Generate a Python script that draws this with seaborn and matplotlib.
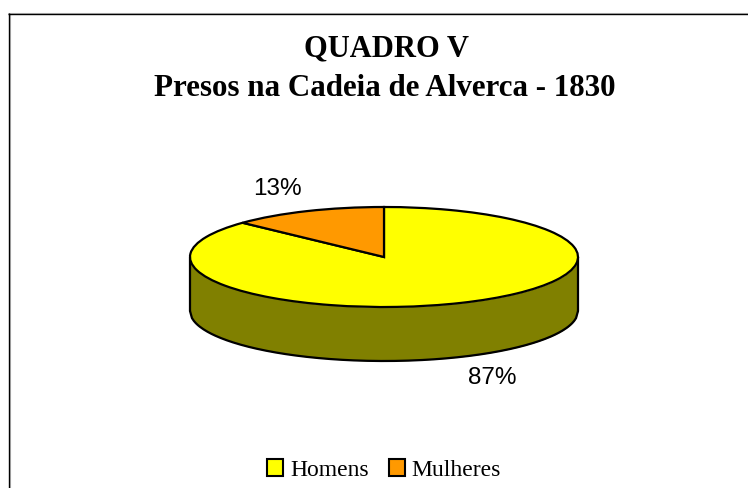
import numpy as np
import matplotlib
matplotlib.use('Agg')
import matplotlib.pyplot as plt
from matplotlib.lines import Line2D
from matplotlib.patches import Patch
import seaborn as sns

sns.set_theme(style='white')
plt.rcParams['font.family'] = ['Liberation Serif', 'DejaVu Serif']

# data
labels = ['Homens', 'Mulheres']
values = [87, 13]
colors = ['#FFFF00', '#FF9900']
wall_color = '#808000'
pct_text = ['87%', '13%']

W, H = 748, 488
fig = plt.figure(figsize=(W / 100, H / 100), dpi=100, facecolor='white')
ax = fig.add_axes([0, 0, 1, 1])


def px_line(x0, y0, x1, y1, color, lw=1.0):
    fig.add_artist(Line2D([x0 / W, x1 / W], [1 - y0 / H, 1 - y1 / H], color=color,
                          linewidth=lw, solid_capstyle='butt', transform=fig.transFigure))


# moldura: so topo e esquerda, com sombra cinza
px_line(8, 12.5, 748, 12.5, '#c0c0c0', 0.8)
px_line(9.5, 14, 9.5, 488, '#c0c0c0', 0.8)
px_line(8, 13.7, 748, 13.7, 'black', 1.0)
px_line(8.5, 13, 8.5, 488, 'black', 1.0)

# pie achatado: eixos em pixels, raio 1 vira elipse
cx, cy, rx, ry, depth = 384, 257, 194, 50, 54
ax.pie(values, colors=colors, startangle=90, counterclock=False,
       wedgeprops=dict(edgecolor='black', linewidth=1.6), radius=1)
ax.set_aspect('auto')
ax.set_xlim((0 - cx) / rx, (W - cx) / rx)
ax.set_ylim((cy - H) / ry, cy / ry)

# parede lateral
t = np.linspace(-1, 1, 200)
lower = -np.sqrt(1 - t ** 2)
d = depth / ry
ax.fill_between(t, lower, lower - d, color=wall_color, zorder=0.5, linewidth=0)
ax.plot(t, lower - d, color='black', lw=1.6, zorder=0.6)
ax.plot([-1, -1], [0, -d], color='black', lw=1.6, zorder=0.6)
ax.plot([1, 1], [0, -d], color='black', lw=1.6, zorder=0.6)

# titulo
fig.text(387 / W, 1 - 49 / H, 'QUADRO V', ha='center', va='center',
         fontsize=22, fontweight='bold', color='black')
fig.text(385 / W, 1 - 88 / H, 'Presos na Cadeia de Alverca - 1830', ha='center', va='center',
         fontsize=22.3, fontweight='bold', color='black')

# rotulos
fig.text(277.5 / W, 1 - 189 / H, pct_text[1], ha='center', va='center', fontsize=17.5,
         family=['Liberation Sans'], color='black')
fig.text(492.5 / W, 1 - 378 / H, pct_text[0], ha='center', va='center', fontsize=17.5,
         family=['Liberation Sans'], color='black')

# legenda
handles = [Patch(facecolor=c, edgecolor='black', linewidth=1.5) for c in colors]
fig.legend(handles, labels, loc='center', bbox_to_anchor=(384 / W, 1 - 470 / H), ncol=2,
           frameon=False, fontsize=17, handlelength=0.68, handleheight=0.68,
           handletextpad=0.3, columnspacing=0.85, labelcolor='black')

fig.savefig('out.png', dpi=100)
